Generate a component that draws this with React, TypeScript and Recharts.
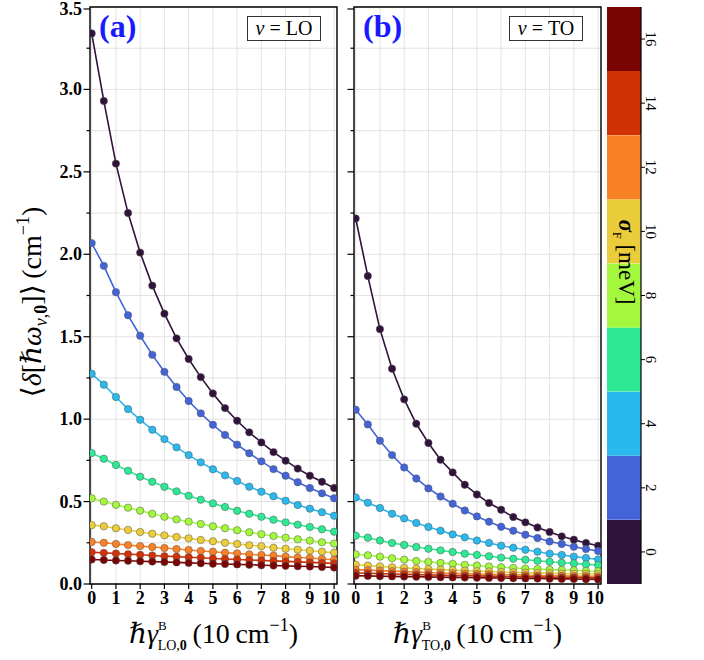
import { LineChart, Line, XAxis, YAxis, CartesianGrid, ReferenceArea, BarChart, Bar, Cell } from "recharts"

const SERIF = "'Liberation Serif', 'DejaVu Serif', serif"

// x values: broadening gamma (10 cm^-1)
const gamma = [0, 0.5, 1, 1.5, 2, 2.5, 3, 3.5, 4, 4.5, 5, 5.5, 6, 6.5, 7, 7.5, 8, 8.5, 9, 9.5, 10]
const xTicks = [0, 1, 2, 3, 4, 5, 6, 7, 8, 9, 10]
const yTicks = [0, 0.25, 0.5, 0.75, 1, 1.25, 1.5, 1.75, 2, 2.25, 2.5, 2.75, 3, 3.25, 3.5]

// sigma_F levels (meV) and colours
const sigmaLevels = ["0", "2", "4", "6", "8", "10", "12", "14", "16"]
const sigmaColors = ["#30123b", "#4364d9", "#29b9ec", "#2ee994", "#a3f83e", "#ebcd3b", "#f98126", "#d13106", "#7a0403"]

// panel (a), nu = LO
const lo0 = [3.34, 2.93, 2.55, 2.25, 2.01, 1.81, 1.64, 1.49, 1.365, 1.255, 1.156, 1.067, 0.99, 0.92, 0.859, 0.8, 0.748, 0.7, 0.657, 0.62, 0.582]
const lo2 = [2.068, 1.93, 1.77, 1.63, 1.506, 1.39, 1.287, 1.195, 1.11, 1.035, 0.966, 0.904, 0.845, 0.793, 0.744, 0.697, 0.657, 0.617, 0.582, 0.55, 0.52]
const lo4 = [1.275, 1.209, 1.134, 1.061, 0.996, 0.936, 0.879, 0.829, 0.782, 0.738, 0.696, 0.659, 0.625, 0.59, 0.56, 0.532, 0.505, 0.479, 0.457, 0.435, 0.414]
const lo6 = [0.794, 0.76, 0.722, 0.687, 0.651, 0.62, 0.59, 0.562, 0.535, 0.511, 0.489, 0.467, 0.444, 0.426, 0.408, 0.39, 0.374, 0.36, 0.346, 0.332, 0.317]
const lo8 = [0.52, 0.5, 0.48, 0.463, 0.445, 0.426, 0.408, 0.392, 0.378, 0.364, 0.35, 0.338, 0.326, 0.314, 0.302, 0.291, 0.281, 0.271, 0.263, 0.253, 0.245]
const lo10 = [0.357, 0.35, 0.338, 0.328, 0.315, 0.305, 0.295, 0.285, 0.277, 0.267, 0.259, 0.25, 0.243, 0.235, 0.229, 0.22, 0.214, 0.208, 0.202, 0.196, 0.19]
const lo12 = [0.255, 0.25, 0.243, 0.236, 0.23, 0.224, 0.218, 0.212, 0.206, 0.2, 0.196, 0.19, 0.186, 0.18, 0.176, 0.172, 0.166, 0.161, 0.158, 0.152, 0.147]
const lo14 = [0.193, 0.189, 0.185, 0.181, 0.177, 0.173, 0.169, 0.166, 0.162, 0.159, 0.155, 0.152, 0.149, 0.146, 0.143, 0.14, 0.137, 0.134, 0.131, 0.128, 0.125]
const lo16 = [0.149, 0.146, 0.143, 0.141, 0.138, 0.136, 0.133, 0.131, 0.128, 0.126, 0.123, 0.121, 0.119, 0.117, 0.114, 0.112, 0.11, 0.108, 0.106, 0.103, 0.1]

// panel (b), nu = TO
const to0 = [2.217, 1.868, 1.546, 1.306, 1.12, 0.972, 0.855, 0.754, 0.677, 0.602, 0.543, 0.491, 0.45, 0.406, 0.374, 0.343, 0.315, 0.289, 0.269, 0.249, 0.232]
const to2 = [1.057, 0.968, 0.869, 0.782, 0.707, 0.64, 0.58, 0.531, 0.487, 0.446, 0.41, 0.378, 0.347, 0.323, 0.299, 0.279, 0.258, 0.243, 0.226, 0.212, 0.2]
const to4 = [0.525, 0.493, 0.461, 0.426, 0.398, 0.37, 0.346, 0.323, 0.301, 0.283, 0.264, 0.249, 0.232, 0.22, 0.208, 0.196, 0.184, 0.176, 0.166, 0.158, 0.149]
const to6 = [0.293, 0.281, 0.264, 0.249, 0.237, 0.224, 0.214, 0.204, 0.194, 0.184, 0.176, 0.168, 0.16, 0.153, 0.147, 0.141, 0.135, 0.129, 0.125, 0.119, 0.115]
const to8 = [0.18, 0.174, 0.166, 0.156, 0.148, 0.14, 0.134, 0.128, 0.122, 0.116, 0.112, 0.106, 0.102, 0.097, 0.093, 0.091, 0.087, 0.085, 0.083, 0.079, 0.077]
const to10 = [0.117, 0.112, 0.107, 0.102, 0.098, 0.094, 0.09, 0.087, 0.084, 0.081, 0.078, 0.076, 0.073, 0.071, 0.069, 0.067, 0.065, 0.063, 0.062, 0.061, 0.06]
const to12 = [0.087, 0.084, 0.081, 0.078, 0.075, 0.072, 0.07, 0.067, 0.065, 0.063, 0.061, 0.059, 0.057, 0.056, 0.054, 0.052, 0.051, 0.05, 0.048, 0.047, 0.046]
const to14 = [0.067, 0.065, 0.063, 0.061, 0.059, 0.057, 0.055, 0.054, 0.052, 0.051, 0.049, 0.048, 0.047, 0.045, 0.044, 0.043, 0.042, 0.04, 0.039, 0.038, 0.037]
const to16 = [0.05, 0.049, 0.047, 0.046, 0.045, 0.044, 0.043, 0.041, 0.04, 0.039, 0.038, 0.037, 0.036, 0.035, 0.034, 0.033, 0.032, 0.031, 0.03, 0.029, 0.028]

const loSeries = [lo0, lo2, lo4, lo6, lo8, lo10, lo12, lo14, lo16]
const toSeries = [to0, to2, to4, to6, to8, to10, to12, to14, to16]

const X_DOMAIN = [-0.07, 10.12]
const TS = 6
const TM = 3

function buildRows(series: number[][]) {
  return gamma.map((g, i) => {
    const row: any = { g }
    series.forEach((s, k) => {
      row["s" + k] = s[i]
    })
    return row
  })
}

function makeYTick(showLabel: boolean) {
  return function YTick(props: any) {
    const { x, y, payload } = props
    const v = payload.value
    const major = Math.abs(v * 2 - Math.round(v * 2)) < 1e-6
    const ax = x + TS + TM
    const len = major ? 6.5 : 3.5
    return (
      <g>
        <line x1={ax} x2={ax - len} y1={y} y2={y} stroke="#000" strokeWidth={1.2} />
        {showLabel && major && (
          <text x={ax - 8} y={y} textAnchor="end" dominantBaseline="central" fontFamily={SERIF} fontWeight="bold" fontSize={18} fill="#000">
            {v.toFixed(1)}
          </text>
        )}
      </g>
    )
  }
}

function XTitle(props: any, mode: string) {
  const vb = props.viewBox
  const cx = vb.x + vb.width / 2
  const y = vb.y + 59
  return (
    <text x={cx} y={y} textAnchor="middle" fontFamily={SERIF} fontSize={28} fill="#000">
      <tspan fontStyle="italic">ℏγ</tspan>
      <tspan fontSize={13} dy={-13}>B</tspan>
      <tspan fontSize={14} dx={-9} dy={20}>{mode},</tspan>
      <tspan fontSize={14} fontWeight="bold">0</tspan>
      <tspan dy={-7}>{"\u2009(10\u2009cm"}</tspan>
      <tspan fontSize={18} dy={-12}>−1</tspan>
      <tspan dy={12}>)</tspan>
    </text>
  )
}

function YTitle() {
  return (
    <text transform="translate(41,302) rotate(-90)" textAnchor="middle" fontFamily={SERIF} fontSize={28} fill="#000">
      ⟨<tspan fontStyle="italic">δ</tspan>[<tspan fontStyle="italic">ℏω</tspan>
      <tspan fontSize={18} fontStyle="italic" dy={6}>ν</tspan>
      <tspan fontSize={18}>,</tspan>
      <tspan fontSize={18} fontWeight="bold">0</tspan>
      <tspan dy={-6}>{"]⟩\u2009(cm"}</tspan>
      <tspan fontSize={18} dy={-12}>−1</tspan>
      <tspan dy={12}>)</tspan>
    </text>
  )
}

function Panel(props: { series: number[][]; mode: string; left: number; width: number; marginLeft: number; axisWidth: number; showLabels: boolean }) {
  const rows = buildRows(props.series)
  return (
    <div style={{ position: "absolute", left: props.left, top: 0 }}>
      <LineChart width={props.width} height={660} data={rows} margin={{ top: 7, right: 3, left: props.marginLeft, bottom: 46 }}>
        <CartesianGrid stroke="#e2e2e2" strokeWidth={1} />
        <XAxis
          type="number"
          dataKey="g"
          domain={X_DOMAIN}
          ticks={xTicks}
          allowDataOverflow
          height={30}
          tickSize={5}
          tickMargin={2}
          axisLine={false}
          tickLine={{ stroke: "#000", strokeWidth: 1.2 }}
          tick={{ fontFamily: SERIF, fontWeight: "bold", fontSize: 18, fill: "#000" }}
          label={{ content: (p: any) => XTitle(p, props.mode) }}
        />
        <YAxis
          type="number"
          domain={[0, 3.5]}
          ticks={yTicks}
          allowDataOverflow
          width={props.axisWidth}
          tickSize={TS}
          tickMargin={TM}
          axisLine={false}
          tickLine={false}
          tick={makeYTick(props.showLabels)}
          label={props.showLabels ? { content: YTitle } : undefined}
        />
        {props.series.map((_, k) => (
          <Line
            key={k}
            type="linear"
            dataKey={"s" + k}
            stroke={sigmaColors[k]}
            strokeWidth={1.6}
            dot={{ r: 3.7, fill: sigmaColors[k], stroke: "#555", strokeWidth: 0.5 }}
            isAnimationActive={false}
          />
        ))}
        <ReferenceArea x1={X_DOMAIN[0]} x2={X_DOMAIN[1]} y1={0} y2={3.5} fill="none" fillOpacity={0} stroke="#000" strokeWidth={1.4} ifOverflow="visible" />
      </LineChart>
    </div>
  )
}

function CbTick(props: any) {
  const { x, y, payload } = props
  const ax = x - 4 - 2
  return (
    <g>
      <line x1={ax} x2={ax + 4} y1={y} y2={y} stroke="#000" strokeWidth={1} />
      <text transform={`translate(${ax + 5},${y}) rotate(90)`} textAnchor="middle" fontFamily={SERIF} fontSize={15} fill="#000">
        {payload.value}
      </text>
    </g>
  )
}

function ColorBar() {
  const rows = sigmaLevels.map((s) => ({ sigma: s, v: 1 }))
  return (
    <div style={{ position: "absolute", left: 600, top: 0 }}>
      <BarChart width={104} height={660} data={rows} layout="vertical" barCategoryGap={0} margin={{ top: 7, right: 23, left: 7, bottom: 76 }}>
        <XAxis type="number" domain={[0, 1]} tick={false} height={0} axisLine={{ stroke: "#000", strokeWidth: 1.2 }} tickLine={false} />
        <XAxis xAxisId="top" orientation="top" type="number" domain={[0, 1]} tick={false} height={0} axisLine={{ stroke: "#000", strokeWidth: 1.2 }} tickLine={false} />
        <YAxis type="category" dataKey="sigma" orientation="right" reversed width={40} tickSize={4} tickMargin={2} axisLine={{ stroke: "#000", strokeWidth: 1.2 }} tickLine={false} tick={CbTick} />
        <YAxis yAxisId="frame" type="category" dataKey="sigma" orientation="left" reversed width={0} tick={false} tickLine={false} axisLine={{ stroke: "#000", strokeWidth: 1.2 }} />
        <Bar dataKey="v" isAnimationActive={false}>
          {rows.map((r, i) => (
            <Cell key={r.sigma} fill={sigmaColors[i]} />
          ))}
        </Bar>
      </BarChart>
    </div>
  )
}

function ModeBox(props: { left: number; mode: string }) {
  return (
    <div
      style={{
        position: "absolute",
        left: props.left,
        top: 16,
        width: 74,
        height: 25,
        border: "1px solid #333",
        background: "#fff",
        boxSizing: "border-box",
        fontFamily: SERIF,
        fontSize: 20,
        lineHeight: "23px",
        textAlign: "center",
      }}
    >
      <i>ν</i> = {props.mode}
    </div>
  )
}

function PanelTag(props: { left: number; text: string }) {
  return (
    <div style={{ position: "absolute", left: props.left, top: 9, fontFamily: SERIF, fontWeight: "bold", fontSize: 32, lineHeight: "34px", color: "#1a1aff" }}>
      {props.text}
    </div>
  )
}

export default function App() {
  return (
    <div style={{ position: "absolute", left: 0, top: 0, width: 704, height: 660, background: "#fff", overflow: "hidden" }}>
      <Panel series={loSeries} mode="LO" left={0} width={340} marginLeft={40} axisWidth={50} showLabels />
      <Panel series={toSeries} mode="TO" left={344} width={260} marginLeft={0} axisWidth={10} showLabels={false} />
      <ColorBar />
      <PanelTag left={99} text="(a)" />
      <PanelTag left={363} text="(b)" />
      <ModeBox left={247} mode="LO" />
      <ModeBox left={509} mode="TO" />
      <div
        style={{
          position: "absolute",
          left: 624,
          top: 262,
          transform: "translate(-50%, -50%) rotate(90deg)",
          whiteSpace: "nowrap",
          fontFamily: SERIF,
          fontSize: 23,
          color: "#000",
        }}
      >
        <b>
          <i>σ</i>
        </b>
        <sub style={{ fontSize: 12 }}>F</sub> [meV]
      </div>
    </div>
  )
}
